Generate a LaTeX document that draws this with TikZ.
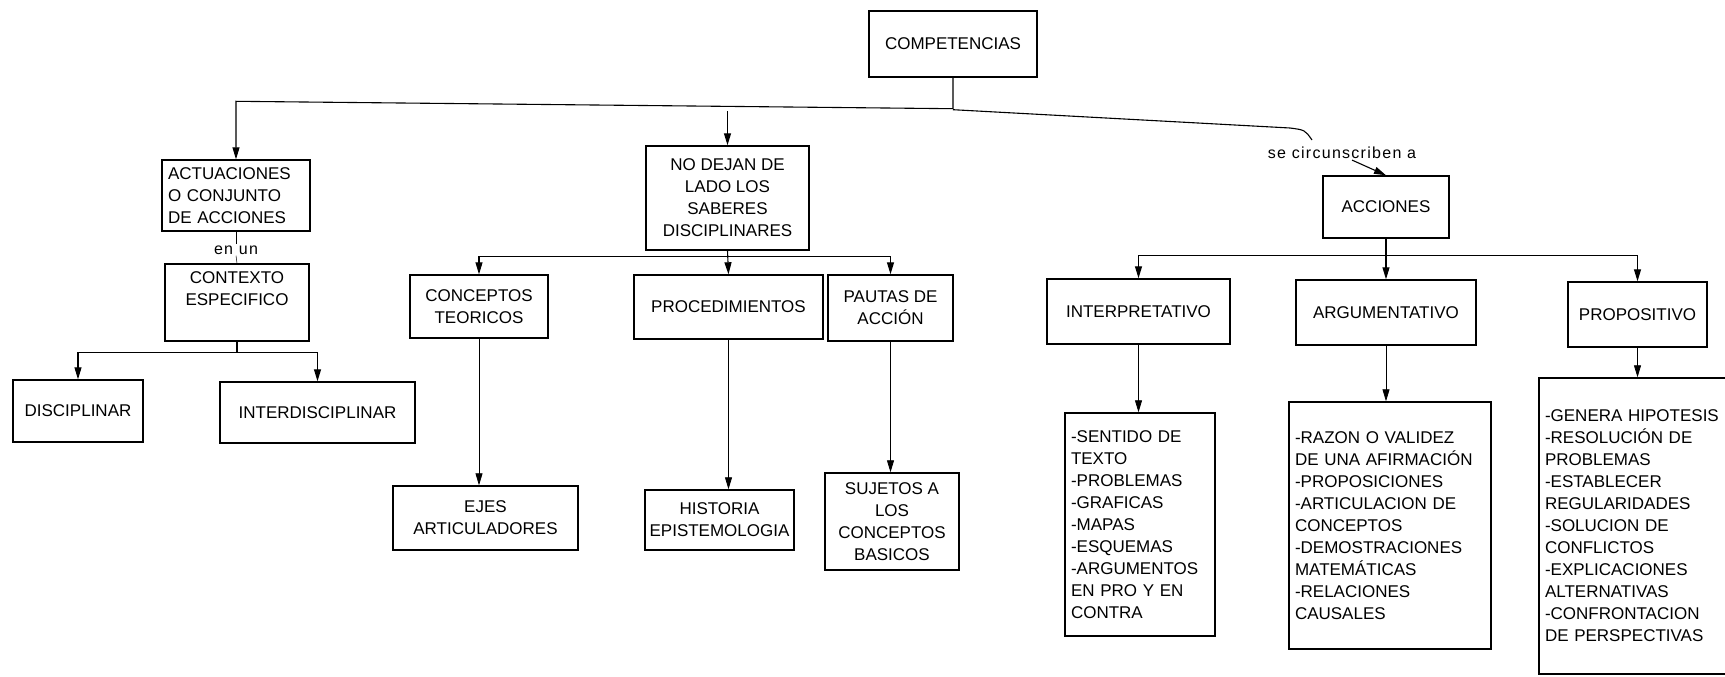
\documentclass[tikz,border=0pt]{standalone}
\usepackage{fontspec}
\setmainfont{Liberation Sans}
\newfontfamily\lsfont[LetterSpace=8]{Liberation Sans}
\usetikzlibrary{arrows.meta,calc}
\begin{document}
\begin{tikzpicture}[x=1pt,y=-1pt,
  every node/.style={font=\fontsize{17}{22}\selectfont},
  bx/.style={draw, line width=1.4pt, inner sep=0pt, align=center},
  lst/.style={draw, line width=1.4pt, inner xsep=6pt, inner ysep=0pt, align=left},
  lbl/.style={inner sep=1pt, font=\lsfont\fontsize{16}{20}\selectfont},
  ln/.style={line width=1.1pt},
  ar/.style={line width=1.1pt, -{Triangle[length=12pt,width=7pt]}},
  thn/.style={line width=0.8pt, -{Triangle[length=12pt,width=7pt]}},
]
\useasboundingbox[fill=white] (0,0) rectangle (1725,677);

% top
\node[bx, minimum width=168, minimum height=66] (comp) at (953,44) {COMPETENCIAS};

% left branch
\node[lst, text width=136, minimum height=71] (act) at (236,195.5) {ACTUACIONES\\O CONJUNTO\\DE ACCIONES};
\node[lbl] (enun) at (236,250) {en un};
\node[bx, minimum width=144, minimum height=77] (ctx) at (237,302.5) {CONTEXTO\\ESPECIFICO\\\strut};
\node[bx, minimum width=130, minimum height=62] (dis) at (78,411) {DISCIPLINAR};
\node[bx, minimum width=195, minimum height=61] (inter) at (317.5,412.5) {INTERDISCIPLINAR};

% middle branch
\node[bx, minimum width=163, minimum height=104] (nod) at (727.5,198) {NO DEJAN DE\\LADO LOS\\SABERES\\DISCIPLINARES};
\node[bx, minimum width=138, minimum height=63] (conc) at (479,306.5) {CONCEPTOS\\TEORICOS};
\node[bx, minimum width=189, minimum height=64] (proc) at (728.5,307) {PROCEDIMIENTOS};
\node[bx, minimum width=125, minimum height=66] (paut) at (890.5,308) {PAUTAS DE\\ACCIÓN};
\node[bx, minimum width=185, minimum height=64] (ejes) at (485.5,518) {EJES\\ARTICULADORES};
\node[bx, minimum width=149, minimum height=60] (hist) at (719.5,520) {HISTORIA\\EPISTEMOLOGIA};
\node[bx, minimum width=134, minimum height=97] (suj) at (892,521.5) {SUJETOS A\\LOS\\CONCEPTOS\\BASICOS};

% right branch
\node[lbl] (sc) at (1342,153) {se circunscriben a};
\node[bx, minimum width=126, minimum height=62] (acc) at (1386,207) {ACCIONES};
\node[bx, minimum width=183, minimum height=65] (interp) at (1138.5,311.5) {INTERPRETATIVO};
\node[bx, minimum width=180, minimum height=65] (arg) at (1386,312.5) {ARGUMENTATIVO};
\node[bx, minimum width=139, minimum height=65] (prop) at (1637.5,314.5) {PROPOSITIVO};
\node[lst, text width=138, minimum height=223] (l1) at (1140,524.5) {-SENTIDO DE\\TEXTO\\-PROBLEMAS\\-GRAFICAS\\-MAPAS\\-ESQUEMAS\\-ARGUMENTOS\\EN PRO Y EN\\CONTRA};
\node[lst, text width=190, minimum height=247] (l2) at (1390,525.5) {-RAZON O VALIDEZ\\DE UNA AFIRMACIÓN\\-PROPOSICIONES\\-ARTICULACION DE\\CONCEPTOS\\-DEMOSTRACIONES\\MATEMÁTICAS\\-RELACIONES\\CAUSALES};
\begin{scope}
\clip (0,0) rectangle (1725,677);
\node[lst, text width=209, minimum height=296] (l3) at (1649.5,526) {-GENERA HIPOTESIS\\-RESOLUCIÓN DE\\PROBLEMAS\\-ESTABLECER\\REGULARIDADES\\-SOLUCION DE\\CONFLICTOS\\-EXPLICACIONES\\ALTERNATIVAS\\-CONFRONTACION\\DE PERSPECTIVAS};
\end{scope}

% connectors from COMPETENCIAS
\draw[ar] (comp.south) -- ++(0,31) -- ($(act.north)+(0,-58)$) -- (act.north);
\draw[ar] (nod.north) ++(0,-34) -- (nod.north);
\draw[ln] (comp.south) ++(0,32) -- (1290,128) .. controls (1305,130) .. (1312,140);
\draw[ar] ([xshift=10pt]sc.south) -- (acc.north);

% left
\draw[line width=0.5pt] (act.south) -- (enun.north);
\draw[line width=0.5pt] (enun.south) -- (ctx.north);
\draw[ar] (ctx.south) -- ++(0,11) -| (dis.north);
\draw[ar] (ctx.south) -- ++(0,11) -| (inter.north);

% middle
\draw[ar] (nod.south) -- ++(0,6) -| (conc.north);
\draw[ar] (nod.south) -- (proc.north);
\draw[ar] (nod.south) -- ++(0,6) -| (paut.north);
\draw[thn] (conc.south) -- (conc.south |- ejes.north);
\draw[thn] (proc.south) -- (proc.south |- hist.north);
\draw[thn] (paut.south) -- (paut.south |- suj.north);

% right
\draw[ar] (acc.south) -- ++(0,17) -| (interp.north);
\draw[ar] (acc.south) -- (arg.north);
\draw[ar] (acc.south) -- ++(0,17) -| (prop.north);
\draw[thn] (interp.south) -- (interp.south |- l1.north);
\draw[thn] (arg.south) -- (arg.south |- l2.north);
\draw[thn] (prop.south) -- (prop.south |- l3.north);
\end{tikzpicture}
\end{document}
